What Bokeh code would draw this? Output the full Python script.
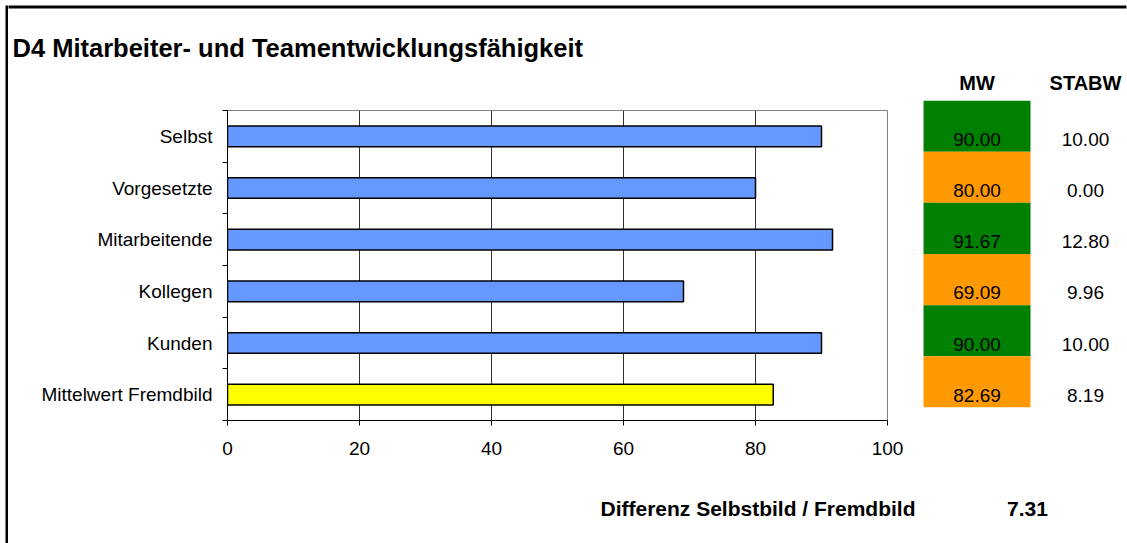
from bokeh.plotting import figure
from bokeh.layouts import row, column
from bokeh.models import Range1d, FixedTicker, Label, ColumnDataSource
from bokeh.embed import file_html
from bokeh.resources import INLINE
from bokeh.core.properties import value

# ---- data ----
categories = ["Selbst", "Vorgesetzte", "Mitarbeitende", "Kollegen", "Kunden", "Mittelwert Fremdbild"]
mw_values = [90.00, 80.00, 91.67, 69.09, 90.00, 82.69]
stabw_values = [10.00, 0.00, 12.80, 9.96, 10.00, 8.19]
bar_colors = ["#6699FF", "#6699FF", "#6699FF", "#6699FF", "#6699FF", "#FFFF00"]
mw_colors = ["#008000", "#FF9900", "#008000", "#FF9900", "#008000", "#FF9900"]
x_ticks = [0, 20, 40, 60, 80, 100]
title_text = "D4 Mitarbeiter- und Teamentwicklungsfähigkeit"
diff_label = "Differenz Selbstbild / Fremdbild"
diff_value = 7.31
headers = ["MW", "STABW"]

FONT = "Liberation Sans"
n = len(categories)
ypos = [n - i - 0.5 for i in range(n)]

src = ColumnDataSource(dict(
    y=ypos, mw=mw_values, color=bar_colors, mwc=mw_colors,
    mwt=[f"{v:.2f}" for v in mw_values],
    st=[f"{v:.2f}" for v in stabw_values],
    ty=[y - 0.26 for y in ypos],
    c0=[0] * n, c1=[1] * n,
))

TOTAL_W = 1127
TOTAL_H = 543
LB = 8            # left strip (5px white + 3px black line)
COL_W = TOTAL_W - LB
TOP_H = 68
MID_H = 410
FOOT_H = TOTAL_H - TOP_H - MID_H
PA_W = 912
PB_W = COL_W - PA_W


def blank(w, h):
    f = figure(width=w, height=h, output_backend="svg", toolbar_location=None,
               x_range=Range1d(0, w), y_range=Range1d(0, h),
               min_border=0, x_axis_location=None, y_axis_location=None)
    f.grid.visible = False
    f.outline_line_color = None
    f.background_fill_color = "white"
    f.border_fill_color = "white"
    f.frame_align = False
    return f


# ---- left border ----
left = blank(LB, TOTAL_H)
left.quad(left=[5], right=[LB + 1], top=[TOTAL_H - 5], bottom=[-5],
          fill_color="black", line_color=None)

# ---- top area with title ----
top = blank(COL_W, TOP_H)
top.quad(left=[-5], right=[COL_W - 1], top=[TOP_H - 5], bottom=[TOP_H - 8],
         fill_color="black", line_color=None)
top.add_layout(Label(x=4, y=21, text=title_text, text_font=FONT, text_color="black",
                     text_font_size="25.5px", text_font_style="bold",
                     text_align="left", text_baseline="middle"))

# ---- bar chart ----
pa = figure(width=PA_W, height=MID_H, output_backend="svg", toolbar_location=None,
            x_range=Range1d(0, 100), y_range=Range1d(0, n),
            min_border_left=219, min_border_right=33, min_border_top=42, min_border_bottom=58)
pa.frame_align = False
pa.background_fill_color = "white"
pa.border_fill_color = "white"
pa.outline_line_color = "#808080"
pa.outline_line_width = 1

pa.hbar(y="y", left=0, right="mw", height=0.4, fill_color="color",
        line_color="black", line_width=1.5, source=src)

xa = pa.xaxis[0]
xa.ticker = FixedTicker(ticks=x_ticks)
xa.axis_line_color = "black"
xa.major_tick_out = 5
xa.major_tick_in = 0
xa.minor_tick_out = 0
xa.major_tick_line_color = "black"
xa.major_label_text_font = FONT
xa.major_label_text_font_size = "19px"
xa.major_label_text_color = "black"
xa.major_label_standoff = 16

ya = pa.yaxis[0]
ya.ticker = FixedTicker(ticks=ypos, minor_ticks=list(range(n + 1)))
ya.major_label_overrides = {y: c for y, c in zip(ypos, categories)}
ya.axis_line_color = "black"
ya.major_tick_out = 0
ya.major_tick_in = 0
ya.minor_tick_out = 5
ya.minor_tick_in = 0
ya.minor_tick_line_color = "black"
ya.major_label_text_font = FONT
ya.major_label_text_font_size = "19px"
ya.major_label_text_color = "black"
ya.major_label_standoff = 10

pa.xgrid.ticker = FixedTicker(ticks=x_ticks[1:-1])
pa.xgrid.grid_line_color = "#333333"
pa.xgrid.grid_line_width = 1
pa.ygrid.grid_line_color = None

# ---- table ----
pb = figure(width=PB_W, height=MID_H, output_backend="svg", toolbar_location=None,
            x_range=Range1d(-0.521, 1.387), y_range=Range1d(0, n),
            x_axis_location="above", y_axis_location=None,
            min_border_left=0, min_border_right=0, min_border_top=31, min_border_bottom=71)
pb.frame_align = False
pb.background_fill_color = "white"
pb.border_fill_color = "white"
pb.outline_line_color = None
pb.grid.grid_line_color = None

pb.rect(x="c0", y="y", width=0.986, height=1, fill_color="mwc", line_color=None, source=src)
pb.text(x="c0", y="ty", text="mwt", text_font=value(FONT), text_font_size="19px",
        text_align="center", text_baseline="middle", text_color="black", source=src)
pb.text(x="c1", y="ty", text="st", text_font=value(FONT), text_font_size="19px",
        text_align="center", text_baseline="middle", text_color="black", source=src)

hb = pb.xaxis[0]
hb.ticker = FixedTicker(ticks=[0, 1])
hb.major_label_overrides = {0: headers[0], 1: headers[1]}
hb.axis_line_color = None
hb.major_tick_line_color = None
hb.minor_tick_line_color = None
hb.major_label_text_font = FONT
hb.major_label_text_font_size = "20px"
hb.major_label_text_font_style = "bold"
hb.major_label_text_color = "black"
hb.major_label_standoff = 1

# ---- footer ----
foot = blank(COL_W, FOOT_H)
foot.add_layout(Label(x=907, y=35, text=diff_label, text_font=FONT, text_color="black",
                      text_font_size="21px", text_font_style="bold",
                      text_align="right", text_baseline="middle"))
foot.add_layout(Label(x=1019, y=35, text=f"{diff_value:.2f}", text_font=FONT, text_color="black",
                      text_font_size="21px", text_font_style="bold",
                      text_align="center", text_baseline="middle"))

layout = row(left, column(top, row(pa, pb), foot))

open("out.html", "w").write(file_html(layout, INLINE))
